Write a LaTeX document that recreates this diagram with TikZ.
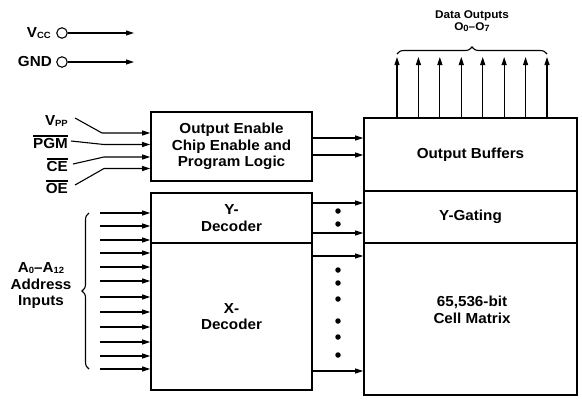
\documentclass[tikz,border=0pt]{standalone}
\usepackage{fontspec}
\setmainfont{Liberation Sans}[FakeStretch=1.05]
\usetikzlibrary{arrows.meta,decorations.pathreplacing}
\newcommand{\sbs}[1]{\raisebox{-1pt}{\fontsize{9}{9}\selectfont #1}}
\newcommand{\myovl}[1]{\setbox0\hbox{#1}\rlap{\raisebox{\dimexpr\ht0+1.8pt\relax}{\rule{\wd0}{1.2pt}}}\box0}
\begin{document}
\begin{tikzpicture}[x=1pt,y=-1pt,
  txt/.style={font=\fontsize{14.5}{16.5}\selectfont\bfseries, align=center, inner sep=0pt},
  smalltxt/.style={font=\fontsize{11.2}{12.5}\selectfont\bfseries, align=center, inner sep=0pt},
  box/.style={draw, line width=1.6pt, rectangle, inner sep=0pt, txt},
  conn/.style={line width=1.1pt},
  arr/.style={conn, -{Triangle[length=8pt,width=5pt]}},
  dot/.style={circle, fill, inner sep=0pt, minimum size=5.5pt},
  pin/.style={circle, draw, line width=1.1pt, inner sep=0pt, minimum size=10.5pt},
]
\useasboundingbox (0,0) rectangle (582,400);

% boxes
\node[box, minimum width=161pt, minimum height=69pt] (logic) at (231.5,146.5) {Output Enable\\Chip Enable and\\Program Logic};
\node[box, minimum width=161pt, minimum height=50pt] (ydec) at (231.5,218) {Y-\\Decoder};
\node[box, minimum width=161pt, minimum height=147pt] (xdec) at (231.5,316.5) {X-\\Decoder};
\node[box, minimum width=213pt, minimum height=73pt] (buf) at (470.5,154.5) {Output Buffers};
\node[box, minimum width=213pt, minimum height=52pt] (ygate) at (470.5,217) {Y-Gating};
\node[box, minimum width=213pt, minimum height=152pt] (cell) at (470.5,319) {};
\node[txt] (celltxt) at (472,310) {65,536-bit\\Cell Matrix};

% power pins
\node[txt, anchor=east] (vcc) at (51,33) {V\sbs{CC}};
\node[pin] (vccpin) at (62,33) {};
\coordinate (vccend) at (134,33);
\draw[arr] (vccpin) -- (vccend);
\node[txt, anchor=east] (gnd) at (52,62) {GND};
\node[pin] (gndpin) at (62,62) {};
\coordinate (gndend) at (134,62);
\draw[arr] (gndpin) -- (gndend);

% control inputs
\node[txt, anchor=east] (vpp) at (68,121) {V\sbs{PP}};
\node[txt, anchor=east] (pgm) at (68,142) {\myovl{PGM}};
\node[txt, anchor=east] (ce) at (68,165) {\myovl{CE}};
\node[txt, anchor=east] (oe) at (68,187) {\myovl{OE}};
\coordinate (vppA) at (75,118);  \coordinate (vppB) at (102,133);
\coordinate (pgmA) at (71,141);  \coordinate (pgmB) at (104,144.5);
\coordinate (ceA) at (73,164);   \coordinate (ceB) at (104,157);
\coordinate (oeA) at (75,185);   \coordinate (oeB) at (104,168.5);
\draw[arr] (vppA) -- (vppB) -- (logic.west |- vppB);
\draw[arr] (pgmA) -- (pgmB) -- (logic.west |- pgmB);
\draw[arr] (ceA) -- (ceB) -- (logic.west |- ceB);
\draw[arr] (oeA) -- (oeB) -- (logic.west |- oeB);

% logic to output buffers
\coordinate (l1) at (312,138);
\coordinate (l2) at (312,155);
\draw[arr] (logic.east |- l1) -- (buf.west |- l1);
\draw[arr] (logic.east |- l2) -- (buf.west |- l2);

% decoder outputs
\coordinate (y1) at (312,203);
\coordinate (y2) at (312,233);
\coordinate (x1) at (312,256);
\coordinate (x2) at (312,371);
\draw[arr] (ydec.east |- y1) -- (ygate.west |- y1);
\draw[arr] (ydec.east |- y2) -- (ygate.west |- y2);
\draw[arr] (xdec.east |- x1) -- (cell.west |- x1);
\draw[arr] (xdec.east |- x2) -- (cell.west |- x2);
\foreach \yy [count=\i] in {211,224,270,283,299,321,337,355}
  \node[dot] (dot\i) at (338,\yy) {};

% address inputs
\foreach \yy [count=\i] in {213,226,240,253,267,281,297,312,327,342,356,369} {
  \coordinate (a\i) at (100,\yy);
  \ifnum\i<4
    \draw[arr] (a\i) -- (ydec.west |- a\i);
  \else
    \draw[arr] (a\i) -- (xdec.west |- a\i);
  \fi
}
\coordinate (braceB) at (89,369);
\coordinate (braceT) at (89,213);
\draw[conn, decorate, decoration={brace, amplitude=7pt}] (braceB) -- (braceT);
\node[txt] (addr) at (41,286) {A\sbs{0}--A\sbs{12}\\Address\\Inputs};

% data outputs
\foreach \k in {0,...,7} {
  \coordinate (o\k) at ({397+21.43*\k},57);
  \draw[arr] (buf.north -| o\k) -- (o\k);
}
\coordinate (braceL) at (397,54);
\coordinate (braceR) at (547,54);
\draw[conn, decorate, decoration={brace, amplitude=7pt}] (braceL) -- (braceR);
\node[smalltxt] (dout) at (472,21) {Data Outputs\\O\sbs{0}--O\sbs{7}};
\end{tikzpicture}
\end{document}
